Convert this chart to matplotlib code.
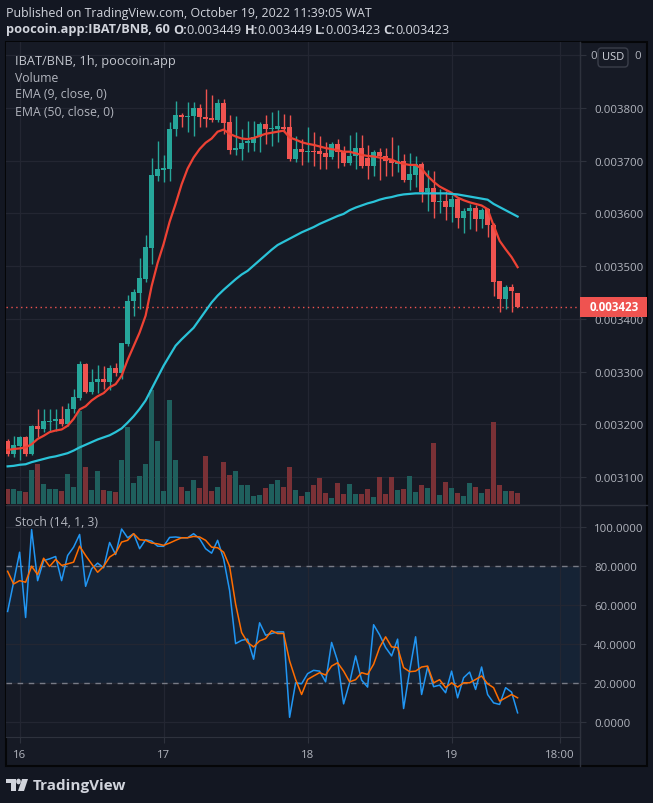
import matplotlib
matplotlib.use("Agg")
import matplotlib.pyplot as plt
from matplotlib.patches import Rectangle, FancyBboxPatch, Circle, Polygon
from matplotlib.lines import Line2D
import numpy as np

# hourly candles, hour offset from Oct 16 00:00
hours = np.arange(-2, 84)

# prices in 1e-6 BNB
opens = [3169, 3143, 3159, 3176, 3143, 3196, 3191, 3204, 3207, 3210,
         3200, 3229, 3249, 3314, 3262, 3281, 3286, 3281, 3306, 3297,
         3352, 3433, 3449, 3476, 3534, 3670, 3683, 3684, 3760, 3787,
         3782, 3784, 3800, 3782, 3781, 3778, 3809, 3773, 3721, 3722,
         3733, 3734, 3744, 3770, 3760, 3761, 3763, 3764, 3703, 3722,
         3717, 3719, 3719, 3715, 3707, 3732, 3719, 3696, 3708, 3724,
         3706, 3689, 3716, 3708, 3701, 3694, 3700, 3664, 3673, 3694,
         3640, 3648, 3621, 3624, 3613, 3627, 3591, 3604, 3610, 3589,
         3608, 3578, 3472, 3437, 3460, 3449]
highs = [3172, 3178, 3178, 3178, 3198, 3229, 3228, 3228, 3229, 3235,
         3241, 3267, 3320, 3317, 3305, 3312, 3311, 3312, 3317, 3355,
         3446, 3457, 3515, 3559, 3706, 3738, 3711, 3773, 3814, 3790,
         3811, 3811, 3808, 3836, 3825, 3817, 3817, 3787, 3784, 3760,
         3776, 3775, 3773, 3787, 3793, 3797, 3789, 3787, 3747, 3742,
         3763, 3755, 3747, 3735, 3736, 3742, 3728, 3749, 3754, 3749,
         3730, 3721, 3724, 3724, 3744, 3730, 3713, 3714, 3708, 3697,
         3683, 3681, 3646, 3643, 3634, 3630, 3611, 3618, 3615, 3611,
         3611, 3581, 3472, 3465, 3466, 3449]
lows = [3140, 3137, 3133, 3140, 3141, 3175, 3185, 3185, 3188, 3197,
        3197, 3222, 3245, 3259, 3257, 3260, 3267, 3264, 3292, 3286,
        3349, 3406, 3419, 3469, 3504, 3662, 3659, 3662, 3747, 3763,
        3754, 3747, 3763, 3763, 3773, 3773, 3751, 3713, 3710, 3702,
        3717, 3719, 3717, 3732, 3728, 3735, 3754, 3700, 3697, 3692,
        3697, 3690, 3684, 3685, 3703, 3687, 3690, 3692, 3685, 3687,
        3666, 3670, 3664, 3671, 3671, 3678, 3660, 3645, 3651, 3621,
        3605, 3592, 3601, 3587, 3583, 3572, 3563, 3570, 3567, 3573,
        3556, 3444, 3412, 3418, 3413, 3423]
closes = [3143, 3160, 3175, 3143, 3197, 3191, 3207, 3207, 3210, 3200,
          3229, 3251, 3314, 3262, 3281, 3286, 3281, 3306, 3297, 3354,
          3433, 3451, 3477, 3537, 3672, 3685, 3687, 3760, 3787, 3782,
          3785, 3800, 3782, 3779, 3778, 3809, 3771, 3721, 3724, 3734,
          3737, 3745, 3770, 3760, 3762, 3765, 3760, 3703, 3722, 3717,
          3719, 3716, 3713, 3707, 3732, 3717, 3696, 3709, 3724, 3689,
          3689, 3717, 3708, 3700, 3695, 3700, 3664, 3675, 3694, 3640,
          3648, 3621, 3624, 3613, 3627, 3591, 3605, 3610, 3589, 3606,
          3578, 3470, 3437, 3460, 3453, 3423]
volumes = [45, 45, 39, 36, 102, 120, 60, 45, 45, 39,
           90, 51, 279, 111, 42, 99, 42, 39, 36, 132,
           231, 63, 84, 120, 342, 189, 39, 312, 132, 51,
           39, 72, 48, 144, 39, 51, 126, 87, 99, 57,
           57, 24, 27, 48, 60, 72, 51, 111, 42, 24,
           36, 57, 78, 33, 18, 63, 30, 60, 30, 30,
           45, 21, 81, 30, 81, 42, 45, 84, 36, 57,
           48, 183, 27, 66, 48, 33, 24, 63, 51, 33,
           45, 246, 57, 39, 39, 33]
ema9 = [3151, 3153, 3154, 3156, 3162, 3172, 3178, 3185, 3188, 3190,
        3197, 3210, 3228, 3234, 3245, 3253, 3259, 3270, 3276, 3292,
        3322, 3348, 3374, 3406, 3462, 3506, 3542, 3584, 3618, 3655,
        3685, 3706, 3722, 3734, 3742, 3755, 3759, 3751, 3746, 3742,
        3741, 3743, 3747, 3751, 3753, 3755, 3757, 3744, 3740, 3735,
        3732, 3730, 3727, 3724, 3722, 3720, 3717, 3717, 3714, 3711,
        3709, 3708, 3706, 3704, 3702, 3697, 3694, 3692, 3692, 3685,
        3671, 3660, 3651, 3645, 3639, 3630, 3625, 3621, 3618, 3615,
        3608, 3577, 3548, 3532, 3517, 3498]
ema50 = [3120, 3121, 3123, 3124, 3128, 3131, 3134, 3137, 3139, 3142,
         3145, 3150, 3156, 3161, 3166, 3171, 3175, 3179, 3185, 3192,
         3203, 3215, 3229, 3245, 3267, 3289, 3311, 3330, 3349, 3361,
         3372, 3383, 3399, 3415, 3431, 3444, 3455, 3465, 3475, 3484,
         3491, 3501, 3511, 3521, 3531, 3540, 3546, 3552, 3558, 3564,
         3569, 3574, 3580, 3585, 3590, 3595, 3599, 3606, 3611, 3615,
         3619, 3622, 3626, 3629, 3631, 3634, 3636, 3637, 3638, 3638,
         3638, 3638, 3638, 3638, 3637, 3636, 3634, 3632, 3630, 3628,
         3626, 3618, 3612, 3606, 3600, 3594]
stoch_k = [56.7, 71.7, 87.1, 53.6, 98.7, 72.5, 82.8, 83.7, 84.9, 72.5,
           85.4, 89.7, 96.2, 69.6, 78.6, 81.5, 79.1, 92.1, 85.9, 99.0,
           94.5, 96.6, 88.9, 93.5, 92.8, 90.2, 90.1, 94.7, 94.9, 94.5,
           94.5, 96.6, 94.0, 88.9, 86.6, 93.2, 83.7, 67.4, 40.2, 41.9,
           42.5, 32.2, 50.9, 44.5, 45.4, 46.2, 46.2, 2.4, 20.1, 19.6,
           24.8, 26.5, 26.1, 20.6, 40.8, 31.3, 9.3, 20.1, 33.9, 21.5,
           17.9, 49.9, 44.7, 38.2, 33.9, 42.5, 6.9, 26.1, 43.7, 14.1,
           28.2, 18.1, 18.9, 15.0, 26.1, 12.4, 22.7, 25.6, 16.7, 28.2,
           14.1, 9.8, 9.0, 17.6, 15.3, 4.7]
stoch_d = [77.3, 70.8, 72.5, 71.7, 79.9, 75.6, 84.0, 79.8, 83.4, 80.3,
           81.1, 82.0, 90.2, 85.4, 81.1, 76.8, 79.8, 84.6, 86.6, 92.3,
           93.2, 96.6, 93.5, 93.2, 91.8, 91.4, 90.6, 91.8, 93.2, 94.5,
           94.5, 95.2, 94.9, 93.2, 89.7, 89.4, 87.1, 79.8, 60.5, 45.9,
           40.8, 38.5, 41.6, 42.8, 46.8, 45.4, 45.4, 31.3, 21.8, 14.1,
           21.8, 23.6, 25.3, 24.1, 28.7, 30.4, 26.1, 20.6, 21.7, 25.3,
           24.4, 29.6, 38.2, 43.7, 38.5, 38.2, 27.9, 25.8, 26.1, 28.2,
           28.7, 20.1, 21.7, 17.6, 20.1, 17.9, 20.1, 20.1, 21.8, 23.6,
           19.6, 17.6, 10.7, 12.4, 14.1, 12.4]

time_ticks = [0, 24, 48, 72, 90]
time_labels = ["16", "17", "18", "19", "18:00"]
price_ticks = [0.0031, 0.0032, 0.0033, 0.0034, 0.0035, 0.0036, 0.0037, 0.0038, 0.0039]
stoch_ticks = [0, 20, 40, 60, 80, 100]

o = np.array(opens) * 1e-6
h = np.array(highs) * 1e-6
l = np.array(lows) * 1e-6
c = np.array(closes) * 1e-6
last = c[-1]

plt.rcParams['font.family'] = ['Open Sans', 'DejaVu Sans']

W, H = 653, 804
BG = '#131722'
PANE = '#161a25'
GRID = '#232632'
TXT = '#b2b5be'
UP, DN = '#26a69a', '#ef5350'
VUP, VDN = '#1f5f5d', '#7a3136'

fig = plt.figure(figsize=(W / 100, H / 100), dpi=100)
fig.patch.set_facecolor(BG)


def box(x0, y0, x1, y1):
    return [x0 / W, 1 - y1 / H, (x1 - x0) / W, (y1 - y0) / H]


def fx(x):
    return x / W


def fy(y):
    return 1 - y / H


# chart frame background
fig.add_artist(Rectangle((fx(6), fy(767)), fx(641), (767 - 43) / H, transform=fig.transFigure,
                         facecolor=PANE, edgecolor='#050608', lw=1.5, zorder=0))

ax = fig.add_axes(box(6, 43, 580, 505))
axs = fig.add_axes(box(6, 507, 580, 738), sharex=ax)
for a in (ax, axs):
    a.set_facecolor(PANE)
    for s in a.spines.values():
        s.set_visible(False)
    a.spines['right'].set_visible(True)
    a.spines['right'].set_color('#2e323d')
    a.yaxis.tick_right()
    a.tick_params(axis='y', colors='#2e323d', labelcolor=TXT, labelsize=8.2, length=4, pad=6)
    a.grid(True, color=GRID, lw=0.9)
    a.set_axisbelow(True)

xmin, xmax = -2.27, 93.4
ax.set_xlim(xmin, xmax)
ax.set_ylim(0.0030486, 0.0039252)
ax.set_yticks(price_ticks)
# top label is mostly hidden behind the USD button, its ends are drawn beside it
ax.set_yticklabels([f"{t:.6f}" for t in price_ticks[:-1]] + [""])
ax.tick_params(axis='x', length=0, labelbottom=False)

# volume
vol_top = 1386.0
vcol = [VUP if cc >= oo else VDN for oo, cc in zip(o, c)]
ax.bar(hours, np.array(volumes) / vol_top, width=0.8, bottom=0, color=vcol,
       transform=ax.get_xaxis_transform(), zorder=1)

# candles
ccol = [UP if cc >= oo else DN for oo, cc in zip(o, c)]
ax.vlines(hours, l, h, colors=ccol, lw=1, zorder=3)
body_lo = np.minimum(o, c)
body_h = np.maximum(np.abs(c - o), 1.6e-6)
ax.bar(hours, body_h, width=0.72, bottom=body_lo, color=ccol, zorder=4)

ax.plot(hours, np.array(ema9) * 1e-6, color='#ee4234', lw=1.6, zorder=5)
ax.plot(hours, np.array(ema50) * 1e-6, color='#2ac3d8', lw=1.6, zorder=5)

ax.axhline(last, color=DN, lw=1, ls=(0, (1, 2.5)), zorder=2)

# last price tag on the price scale
y_last = ax.transData.transform((0, last))[1]
fig.add_artist(Rectangle((fx(580), (y_last - 10) / H), fx(67), 20 / H, transform=fig.transFigure,
                         fc=DN, ec='none', zorder=6))
fig.text(fx(614), y_last / H, f"{last:.6f}", color='white', fontsize=8.4, fontweight='bold',
         ha='center', va='center', zorder=7)

# legend texts
ax.text(9 / 574, 1 - 18 / 462, "IBAT/BNB, 1h, poocoin.app", transform=ax.transAxes, color='#c3c6ce',
        fontsize=9.2, va='center')
for k, s in enumerate(["Volume", "EMA (9, close, 0)", "EMA (50, close, 0)"]):
    ax.text(9 / 574, 1 - (35 + 17 * k) / 462, s, transform=ax.transAxes, color=TXT, fontsize=8.8, va='center')

# stochastic pane
axs.set_ylim(-7.7, 110.8)
axs.set_yticks(stoch_ticks)
axs.set_yticklabels([f"{t:.4f}" for t in stoch_ticks])
axs.axhspan(20, 80, color='#2196f3', alpha=0.08, lw=0, zorder=0.5)
axs.axhline(80, color='#787b86', lw=1, ls=(0, (4, 4)), zorder=1)
axs.axhline(20, color='#787b86', lw=1, ls=(0, (4, 4)), zorder=1)
axs.plot(hours, stoch_k, color='#2196f3', lw=1.1, zorder=3)
axs.plot(hours, stoch_d, color='#ff6d00', lw=1.1, zorder=4)
axs.text(9 / 574, 1 - 16 / 231, "Stoch (14, 1, 3)", transform=axs.transAxes, color=TXT, fontsize=8.8,
         va='center')
axs.set_xticks(time_ticks)
axs.set_xticklabels(time_labels)
axs.tick_params(axis='x', colors='#2e323d', labelcolor=TXT, labelsize=8.2, length=4, pad=5)
axs.spines['bottom'].set_visible(True)
axs.spines['bottom'].set_color('#2e323d')

# separators
fig.add_artist(Line2D([fx(580), fx(580)], [fy(43), fy(767)], color='#2e323d', lw=1, transform=fig.transFigure))
fig.add_artist(Line2D([fx(6), fx(647)], [fy(506), fy(506)], color='#2e323d', lw=1, transform=fig.transFigure))

# USD button with the clipped 0.003900 label around it
fig.add_artist(FancyBboxPatch((fx(598), fy(68)), fx(30), 19 / H, boxstyle='round,pad=0,rounding_size=0.005',
                              transform=fig.transFigure, fc=PANE, ec='#3a3e4a', lw=1, zorder=5))
fig.text(fx(613), fy(58), "USD", color='#d1d4dc', fontsize=8, ha='center', va='center', zorder=6)
y39 = ax.transData.transform((0, 0.0039))[1] / H
fig.text(fx(590), y39, "0", color=TXT, fontsize=8.2, ha='left', va='center')
fig.text(fx(641), y39, "0", color=TXT, fontsize=8.2, ha='right', va='center')

# header
fig.text(fx(6), fy(13), "Published on TradingView.com, October 19, 2022 11:39:05 WAT", color='#d1d4dc',
         fontsize=8.9, va='center')
parts = [("poocoin.app:IBAT/BNB, 60 ", 'bold'), ("O:", 'bold'), ("0.003449 ", 'normal'),
         ("H:", 'bold'), ("0.003449 ", 'normal'), ("L:", 'bold'), ("0.003423 ", 'normal'),
         ("C:", 'bold'), ("0.003423", 'normal')]
t = fig.text(fx(6), fy(30), parts[0][0], color='#d1d4dc', fontsize=9.2, fontweight=parts[0][1], va='center')
for s, wgt in parts[1:]:
    t = ax.annotate(s, xy=(1, 0), xycoords=t, va='bottom', ha='left', color='#d1d4dc', fontsize=9.2,
                    fontweight=wgt, annotation_clip=False)

# TradingView logo
fig.add_artist(Rectangle((fx(6), fy(784)), fx(10), 4 / H, transform=fig.transFigure, fc='#d1d4dc', ec='none'))
fig.add_artist(Rectangle((fx(11), fy(792)), fx(5), 12 / H, transform=fig.transFigure, fc='#d1d4dc', ec='none'))
fig.add_artist(Circle((fx(18.5), fy(782.5)), fx(2.3), transform=fig.transFigure, fc='#d1d4dc', ec='none'))
fig.add_artist(Polygon([(fx(22), fy(780)), (fx(28), fy(780)), (fx(24), fy(792)), (fx(18), fy(792))],
                       closed=True, transform=fig.transFigure, fc='#d1d4dc', ec='none'))
fig.text(fx(33), fy(786), "TradingView", color='#d1d4dc', fontsize=11, fontweight='bold', va='center')

fig.savefig("out.png", dpi=100, facecolor=BG)
